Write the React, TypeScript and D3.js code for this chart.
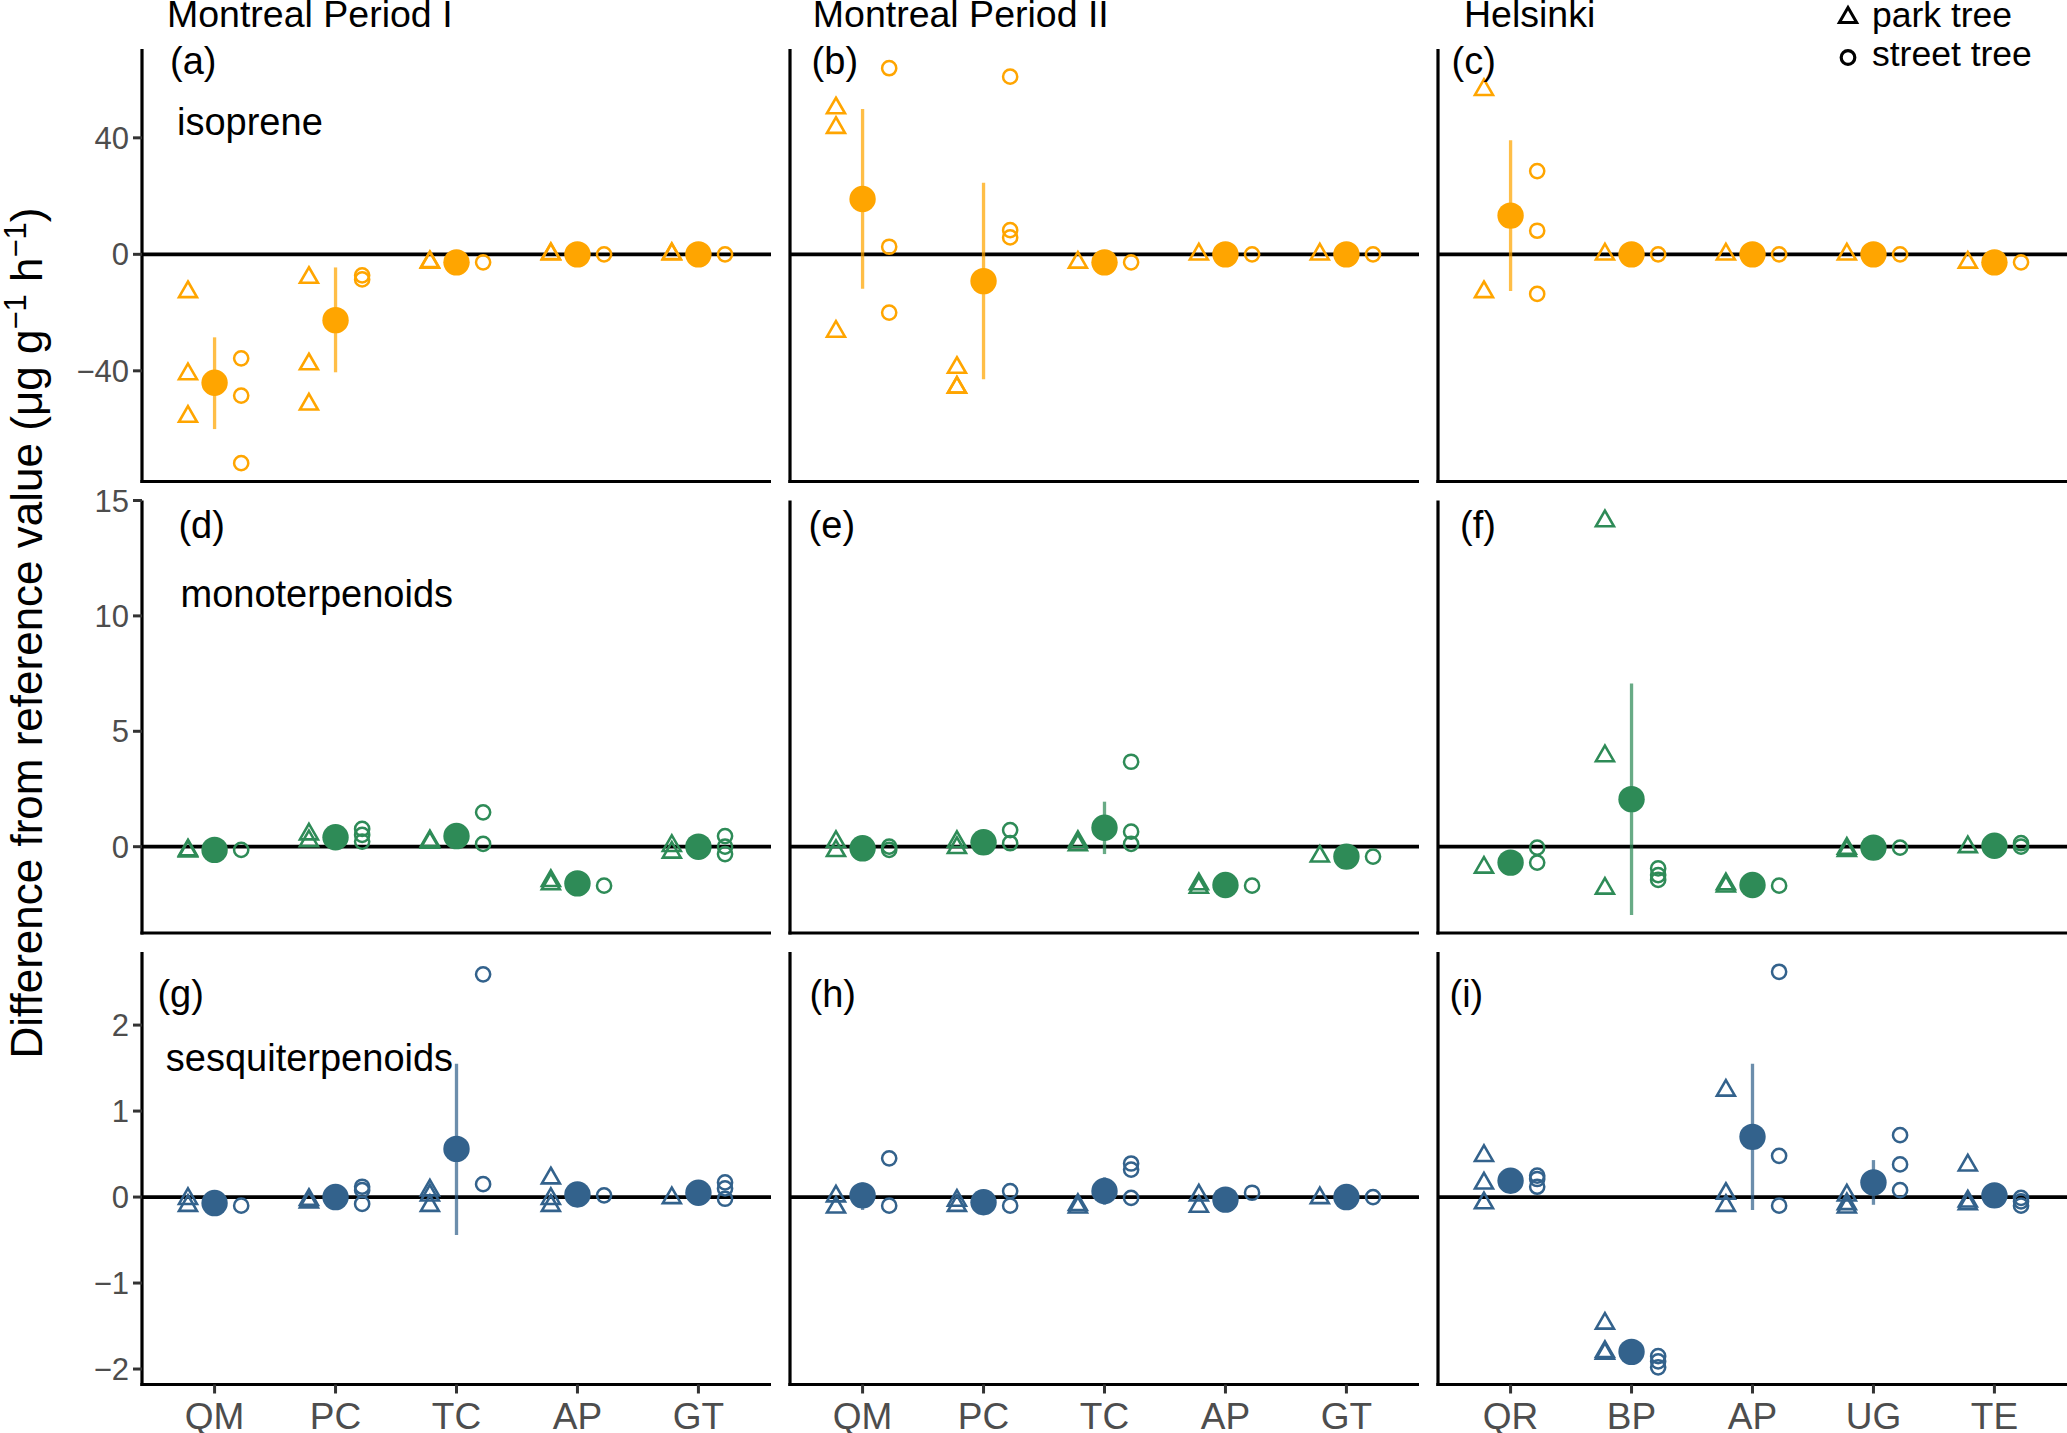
import * as d3 from 'd3';

// facet layout: 3 compounds (rows) x 3 campaigns (columns)
const COLUMN_TITLES = ['Montreal Period I', 'Montreal Period II', 'Helsinki'];
const SPECIES_MONTREAL = ['QM', 'PC', 'TC', 'AP', 'GT'];
const SPECIES_HELSINKI = ['QR', 'BP', 'AP', 'UG', 'TE'];
const COMPOUNDS = ['isoprene', 'monoterpenoids', 'sesquiterpenoids'];
const PANEL_TAGS = ['(a)', '(b)', '(c)', '(d)', '(e)', '(f)', '(g)', '(h)', '(i)'];
const Y_TICKS = [[-40, 0, 40], [0, 5, 10, 15], [-2, -1, 0, 1, 2]];
const Y_DOMAINS: [number, number][] = [[-78, 70.5], [-3.74, 15.0], [-2.18, 2.85]];
const ROW_COLORS = ['#FFA500', '#2E8B57', '#33628C'];
const LEGEND_LABELS = ['park tree', 'street tree'];

type Range = [number, number] | null;

// (a) Montreal I, isoprene
const parkA = [[-12.9, -41.1, -55.7], [-8.0, -37.7, -51.5], [-2.8, -2.6], [0, 0.2], [0, 0.2]];
const streetA = [[-35.7, -48.5, -71.7], [-7.2, -8.6], [-2.75], [0], [0]];
const meanA = [-44.1, -22.6, -2.75, 0, 0];
const barA: Range[] = [[-60.0, -28.5], [-40.5, -4.5], null, null, null];

// (b) Montreal II, isoprene
const parkB = [[50.2, 43.5, -26.5], [-38.9, -45.7, -45.7], [-2.8], [0], [0]];
const streetB = [[63.9, 2.6, -20.0], [61.0, 8.3, 5.8], [-2.75], [0], [0]];
const meanB = [19.0, -9.2, -2.75, 0, 0];
const barB: Range[] = [[-11.8, 49.9], [-42.9, 24.6], null, null, null];

// (c) Helsinki, isoprene
const parkC = [[56.5, -12.9], [0], [0], [0], [-2.8]];
const streetC = [[28.6, 8.1, -13.6], [0], [0], [0], [-2.75]];
const meanC = [13.3, 0, 0, 0, -2.75];
const barC: Range[] = [[-12.6, 39.2], null, null, null, null];

// (d) Montreal I, monoterpenoids
const parkD = [[-0.15, -0.2], [0.54, 0.25], [0.18, 0.25], [-1.48, -1.62], [0.04, -0.25]];
const streetD = [[-0.14], [0.77, 0.51, 0.22], [1.49, 0.12], [-1.69], [0.46, 0, -0.32]];
const meanD = [-0.14, 0.41, 0.46, -1.59, 0];
const barD: Range[] = [null, null, null, null, null];

// (e) Montreal II, monoterpenoids
const parkE = [[0.21, -0.18], [0.21, -0.05], [0.21, 0.07], [-1.62, -1.77], [-0.42]];
const streetE = [[0, -0.14], [0.72, 0.15], [3.68, 0.65, 0.12], [-1.69], [-0.43]];
const meanE = [-0.07, 0.19, 0.82, -1.66, -0.43];
const barE: Range[] = [null, null, [-0.32, 1.95], null, null];

// (f) Helsinki, monoterpenoids
const parkF = [[-0.9], [14.11, 3.93, -1.81], [-1.62, -1.72], [-0.08, -0.18], [-0.01]];
const streetF = [[-0.04, -0.69], [-0.94, -1.23, -1.44], [-1.69], [-0.04], [0.15, 0]];
const meanF = [-0.69, 2.06, -1.66, -0.04, 0.04];
const barF: Range[] = [null, [-2.96, 7.07], null, null, null];

// (g) Montreal I, sesquiterpenoids
const parkG = [[-0.02, -0.1], [-0.03, -0.06], [0.08, 0.02, -0.1], [0.22, -0.02, -0.1], [-0.01]];
const streetG = [[-0.1], [0.12, 0.08, -0.08], [2.59, 0.15], [0.02], [0.17, 0.1, -0.02]];
const meanG = [-0.07, 0, 0.56, 0.03, 0.05];
const barG: Range[] = [null, null, [-0.44, 1.55], null, null];

// (h) Montreal II, sesquiterpenoids
const parkH = [[0.01, -0.12], [-0.04, -0.1], [-0.09, -0.12], [0.02, -0.11], [-0.01]];
const streetH = [[0.45, -0.1], [0.07, -0.1], [0.39, 0.32, -0.01], [0.05], [0]];
const meanH = [0.02, -0.06, 0.07, -0.03, 0];
const barH: Range[] = [[-0.15, 0.17], null, [-0.09, 0.23], null, null];

// (i) Helsinki, sesquiterpenoids
const parkI = [[0.48, 0.16, -0.07], [-1.47, -1.8, -1.82], [1.24, 0.04, -0.1], [0.02, -0.12, -0.08], [0.37, -0.05, -0.08]];
const streetI = [[0.25, 0.21, 0.12], [-1.85, -1.91, -1.98], [2.62, 0.48, -0.1], [0.72, 0.38, 0.08], [-0.01, -0.05, -0.1]];
const meanI = [0.19, -1.8, 0.7, 0.17, 0.02];
const barI: Range[] = [null, null, [-0.15, 1.55], [-0.09, 0.43], null];

const PANELS = [
  { park: parkA, street: streetA, mean: meanA, bar: barA },
  { park: parkB, street: streetB, mean: meanB, bar: barB },
  { park: parkC, street: streetC, mean: meanC, bar: barC },
  { park: parkD, street: streetD, mean: meanD, bar: barD },
  { park: parkE, street: streetE, mean: meanE, bar: barE },
  { park: parkF, street: streetF, mean: meanF, bar: barF },
  { park: parkG, street: streetG, mean: meanG, bar: barG },
  { park: parkH, street: streetH, mean: meanH, bar: barH },
  { park: parkI, street: streetI, mean: meanI, bar: barI },
];

// geometry
const WIDTH = 2067;
const HEIGHT = 1433;
const PANEL_W = 629;
const PANEL_H = 432.5;
const LEFT0 = 142;
const TOP0 = 49;
const COL_STEP = 648;
const ROW_STEP = 451.5;
const DODGE = 0.22;
const FONT = '"Liberation Sans", Arial, Helvetica, sans-serif';
const TEXT_GREY = '#4D4D4D';

const TAG_DX = [28, 21.6, 13.6, 36.4, 18.6, 22, 15.4, 19.5, 11.5];
const TAG_DY = [25, 37.8, 54.7];
const COMPOUND_DX = [35, 38.5, 23.8];
const COMPOUND_DY = [86, 106, 119];
const TITLE_DX = [25, 22.8, 26];

const triangle = d3.symbol().type(d3.symbolTriangle).size(140)() ?? '';
const legendTriangle = d3.symbol().type(d3.symbolTriangle).size(130)() ?? '';

function Panel({ row, col }: { row: number; col: number }) {
  const idx = row * 3 + col;
  const data = PANELS[idx];
  const color = ROW_COLORS[row];
  const species = col === 2 ? SPECIES_HELSINKI : SPECIES_MONTREAL;
  const left = LEFT0 + col * COL_STEP;
  const top = TOP0 + row * ROW_STEP;
  const bottom = top + PANEL_H;

  const x = d3.scaleLinear().domain([0.4, species.length + 0.6]).range([left, left + PANEL_W]);
  const y = d3.scaleLinear().domain(Y_DOMAINS[row]).range([bottom, top]);

  return (
    <g>
      {/* axes */}
      <line x1={left} x2={left} y1={top} y2={bottom + 1.6} stroke="#000" strokeWidth={3.2} />
      <line x1={left - 1.6} x2={left + PANEL_W} y1={bottom} y2={bottom} stroke="#000" strokeWidth={3.2} />
      {col === 0 &&
        Y_TICKS[row].map((t) => (
          <g key={t}>
            <line x1={left - 9} x2={left} y1={y(t)} y2={y(t)} stroke="#333" strokeWidth={3} />
            <text
              x={left - 13}
              y={y(t)}
              dy="0.36em"
              textAnchor="end"
              fontSize={31}
              fill={TEXT_GREY}
            >
              {t < 0 ? `\u2212${Math.abs(t)}` : t}
            </text>
          </g>
        ))}
      {row === 2 &&
        species.map((s, i) => (
          <g key={s}>
            <line x1={x(i + 1)} x2={x(i + 1)} y1={bottom} y2={bottom + 9} stroke="#333" strokeWidth={3} />
            <text x={x(i + 1)} y={1429} textAnchor="middle" fontSize={37} fill={TEXT_GREY}>
              {s}
            </text>
          </g>
        ))}

      {/* reference line */}
      <line x1={left} x2={left + PANEL_W} y1={y(0)} y2={y(0)} stroke="#000" strokeWidth={3.8} />

      {/* individual trees */}
      {data.park.map((vals, i) =>
        vals.map((v, k) => (
          <path
            key={`p${i}-${k}`}
            d={triangle}
            transform={`translate(${x(i + 1 - DODGE)},${y(v)})`}
            fill="none"
            stroke={color}
            strokeWidth={2.6}
          />
        )),
      )}
      {data.street.map((vals, i) =>
        vals.map((v, k) => (
          <circle
            key={`s${i}-${k}`}
            cx={x(i + 1 + DODGE)}
            cy={y(v)}
            r={7.1}
            fill="none"
            stroke={color}
            strokeWidth={2.5}
          />
        )),
      )}

      {/* mean with interval */}
      {data.bar.map((b, i) =>
        b ? (
          <line
            key={`b${i}`}
            x1={x(i + 1)}
            x2={x(i + 1)}
            y1={y(b[0])}
            y2={y(b[1])}
            stroke={color}
            strokeOpacity={0.72}
            strokeWidth={3.3}
          />
        ) : null,
      )}
      {data.mean.map((m, i) => (
        <circle key={`m${i}`} cx={x(i + 1)} cy={y(m)} r={13.2} fill={color} />
      ))}

      {/* labels */}
      <text x={left + TAG_DX[idx]} y={top + TAG_DY[row]} fontSize={38} fill="#000">
        {PANEL_TAGS[idx]}
      </text>
      {col === 0 && (
        <text x={left + COMPOUND_DX[row]} y={top + COMPOUND_DY[row]} fontSize={38} fill="#000">
          {COMPOUNDS[row]}
        </text>
      )}
      {row === 0 && (
        <text x={left + TITLE_DX[col]} y={27} fontSize={37.5} fill="#000">
          {COLUMN_TITLES[col]}
        </text>
      )}
    </g>
  );
}

export default function App() {
  const cells: { row: number; col: number }[] = [];
  for (let row = 0; row < 3; row++) for (let col = 0; col < 3; col++) cells.push({ row, col });

  return (
    <svg
      width={WIDTH}
      height={HEIGHT}
      viewBox={`0 0 ${WIDTH} ${HEIGHT}`}
      style={{ position: 'absolute', left: 0, top: 0, background: '#fff' }}
      fontFamily={FONT}
    >
      <rect width={WIDTH} height={HEIGHT} fill="#fff" />
      {cells.map((c) => (
        <Panel key={`${c.row}-${c.col}`} row={c.row} col={c.col} />
      ))}

      {/* y axis title */}
      <text transform="translate(42,633) rotate(-90)" textAnchor="middle" fontSize={44} fill="#000">
        Difference from reference value (μg g
        <tspan dy={-16} fontSize={31}>−1</tspan>
        <tspan dy={16}> h</tspan>
        <tspan dy={-16} fontSize={31}>−1</tspan>
        <tspan dy={16}>)</tspan>
      </text>

      {/* legend */}
      <path d={legendTriangle} transform="translate(1848,17.5)" fill="none" stroke="#000" strokeWidth={3} />
      <circle cx={1848} cy={57.5} r={6.8} fill="none" stroke="#000" strokeWidth={3.2} />
      {LEGEND_LABELS.map((l, i) => (
        <text key={l} x={1872} y={26.7 + i * 39.3} fontSize={35.5} fill="#000">
          {l}
        </text>
      ))}
    </svg>
  );
}
